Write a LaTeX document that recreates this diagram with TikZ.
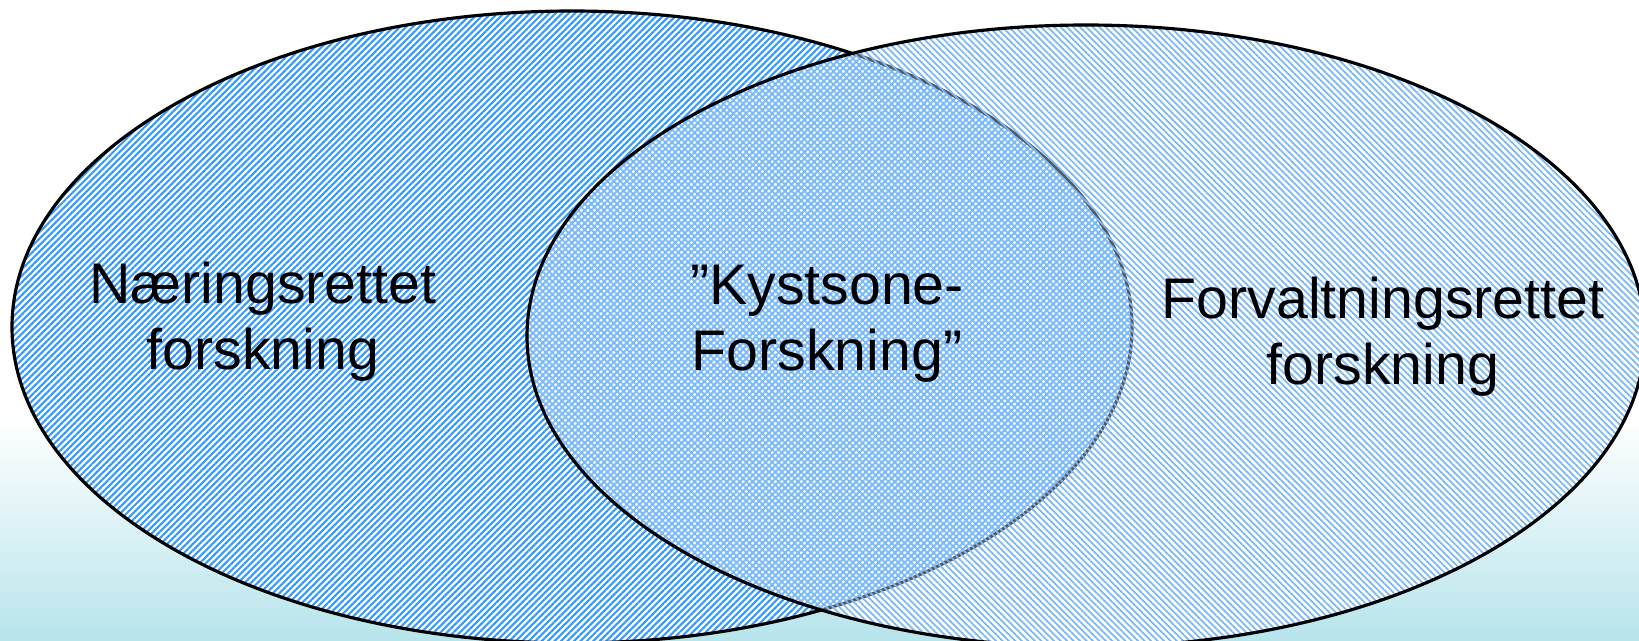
\documentclass[tikz,border=0pt]{standalone}
\usepackage{fontspec}
\setmainfont{Liberation Sans}
\usetikzlibrary{patterns.meta}
\definecolor{hatchdark}{HTML}{3399FF}
\definecolor{hatchlight}{HTML}{7AB8F8}
\definecolor{seabottom}{HTML}{B8E4EC}

\begin{document}
\begin{tikzpicture}[font=\fontsize{16.3}{18.8}\selectfont]
        \tikzstyle{left set}=[pattern={Lines[angle=45,distance=1.3pt,line width=0.6pt]},pattern color=hatchdark]
        \tikzstyle{right set}=[pattern={Lines[angle=-45,distance=1.3pt,line width=0.5pt]},pattern color=hatchlight]
        \tikzstyle{set border}=[line width=0.9pt]
        \tikzstyle{set label}=[align=center,inner sep=0]

        \useasboundingbox (0,0) rectangle (16.39,6.40);
        \clip (0,0) rectangle (16.39,6.40);
        \fill[white] (0,0) rectangle (16.39,6.40);
        \shade[top color=white,bottom color=seabottom] (0,0) rectangle (16.39,2.2);

        % the two sets
        \fill[white] (5.72,3.13) ellipse (5.60 and 3.16);
        \fill[white] (10.86,3.04) ellipse (5.59 and 3.11);
        \fill[left set] (5.72,3.13) ellipse (5.60 and 3.16);
        \draw[set border] (5.72,3.13) ellipse (5.60 and 3.16);
        \fill[white,fill opacity=0.35] (10.86,3.04) ellipse (5.59 and 3.11);
        \fill[right set] (10.86,3.04) ellipse (5.59 and 3.11);
        \draw[set border] (10.86,3.04) ellipse (5.59 and 3.11);

        % labels
        \node(naering)[set label] at (2.63,3.18) {Næringsrettet\\forskning};
        \node(kystsone)[set label] at (8.27,3.16) {”Kystsone-\\Forskning”};
        \node(forvaltning)[set label] at (13.83,3.03) {Forvaltningsrettet\\forskning};
\end{tikzpicture}
\end{document}
